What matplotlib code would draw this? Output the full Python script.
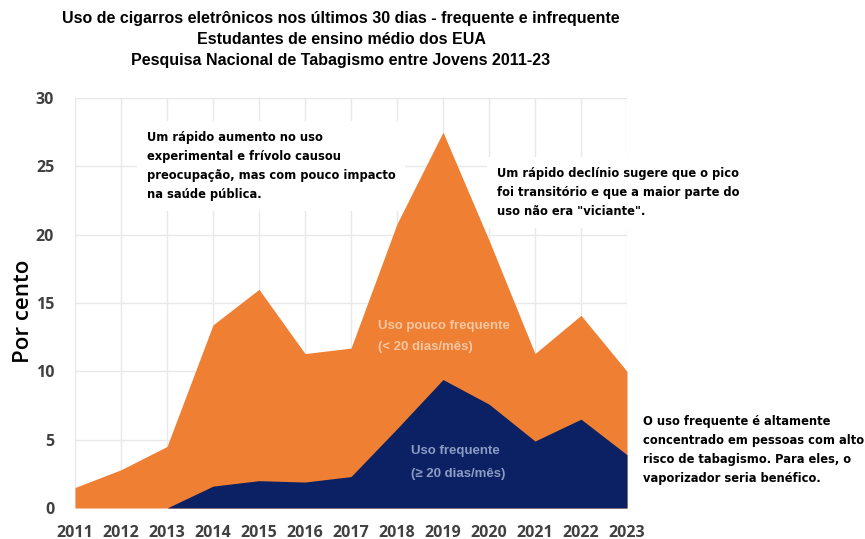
import matplotlib
matplotlib.use("Agg")
import matplotlib.pyplot as plt
import numpy as np

years = [2011, 2012, 2013, 2014, 2015, 2016, 2017, 2018, 2019, 2020, 2021, 2022, 2023]
total_use = [1.5, 2.8, 4.5, 13.4, 16.0, 11.3, 11.7, 20.8, 27.5, 19.6, 11.3, 14.1, 10.0]
frequent_use = [0.0, 0.0, 0.0, 1.6, 2.0, 1.9, 2.3, 5.8, 9.4, 7.6, 4.9, 6.5, 3.9]
y_ticks = [0, 5, 10, 15, 20, 25, 30]

title_lines = ["Uso de cigarros eletrônicos nos últimos 30 dias - frequente e infrequente",
               "Estudantes de ensino médio dos EUA",
               "Pesquisa Nacional de Tabagismo entre Jovens 2011-23"]
note_left = ("Um rápido aumento no uso\nexperimental e frívolo causou\n"
             "preocupação, mas com pouco impacto\nna saúde pública.")
note_right = ("Um rápido declínio sugere que o pico\nfoi transitório e que a maior parte do\n"
              "uso não era \"viciante\".")
note_bottom = ("O uso frequente é altamente\nconcentrado em pessoas com alto\n"
               "risco de tabagismo. Para eles, o\nvaporizador seria benéfico.")

W, H = 865, 539
fig = plt.figure(figsize=(W / 100, H / 100), dpi=100)
fig.patch.set_facecolor("white")
ax = fig.add_axes([75 / W, 1 - 508 / H, (627 - 75) / W, (508 - 98) / H])

orange = "#EE7F33"
navy = "#0B2163"
ax.fill_between(years, 0, total_use, color=orange, lw=0, zorder=2)
ax.fill_between(years, 0, frequent_use, color=navy, lw=0, zorder=3)

ax.set_xlim(2011, 2023)
ax.set_ylim(0, 30)
ax.set_xticks(years)
ax.set_yticks(y_ticks)
ax.grid(True, color="#E8E8E8", lw=1, zorder=0)
ax.set_axisbelow(True)
for s in ax.spines.values():
    s.set_visible(False)
ax.tick_params(length=0, labelsize=11.5, labelcolor="#404040")
for lab in ax.get_xticklabels() + ax.get_yticklabels():
    lab.set_fontweight("bold")
    lab.set_family("Open Sans")
ax.tick_params(axis="x", pad=12)
ax.tick_params(axis="y", pad=15)

ax.set_ylabel("Por cento", fontsize=16, family="Open Sans", fontweight="semibold")
ax.yaxis.set_label_coords((34 - 75) / (627 - 75), (508 - 311) / (508 - 98))

for i, (t, y) in enumerate(zip(title_lines, [18, 40, 61])):
    fig.text(341 / W, 1 - y / H, t, ha="center", va="center", fontsize=11.5,
             fontweight="bold", family="Liberation Sans")

def to_data(px, py):
    x = 2011 + (px - 75) / 46.0
    y = (508 - py) / (410 / 30)
    return x, y

box = dict(facecolor="white", edgecolor="none", pad=7)
xl, yl = to_data(147, 131)
ax.text(xl, yl, note_left, ha="left", va="top", fontsize=8.3,
        fontweight="bold", family="DejaVu Sans", linespacing=1.6, bbox=box,
        zorder=1, clip_on=False)
xr, yr = to_data(497, 167)
ax.text(xr, yr, note_right, ha="left", va="top", fontsize=8.3,
        fontweight="bold", family="DejaVu Sans", linespacing=1.6, bbox=box,
        zorder=1, clip_on=False)
fig.text(643 / W, 1 - 415 / H, note_bottom, ha="left", va="top", fontsize=8.3,
         fontweight="bold", family="DejaVu Sans", linespacing=1.6, zorder=5)

lab_kw = dict(fontsize=9.5, fontweight="bold", family="Liberation Sans", va="center", zorder=6)
ax.text(2017.58, 13.3, "Uso pouco frequente", color="#F7C7A3", **lab_kw)
ax.text(2017.58, 11.75, "(< 20 dias/mês)", color="#F7C7A3", **lab_kw)
ax.text(2018.3, 4.2, "Uso frequente", color="#8C9DC4", **lab_kw)
ax.text(2018.3, 2.5, "(≥ 20 dias/mês)", color="#8C9DC4", **lab_kw)

fig.savefig("out.png", dpi=100)
